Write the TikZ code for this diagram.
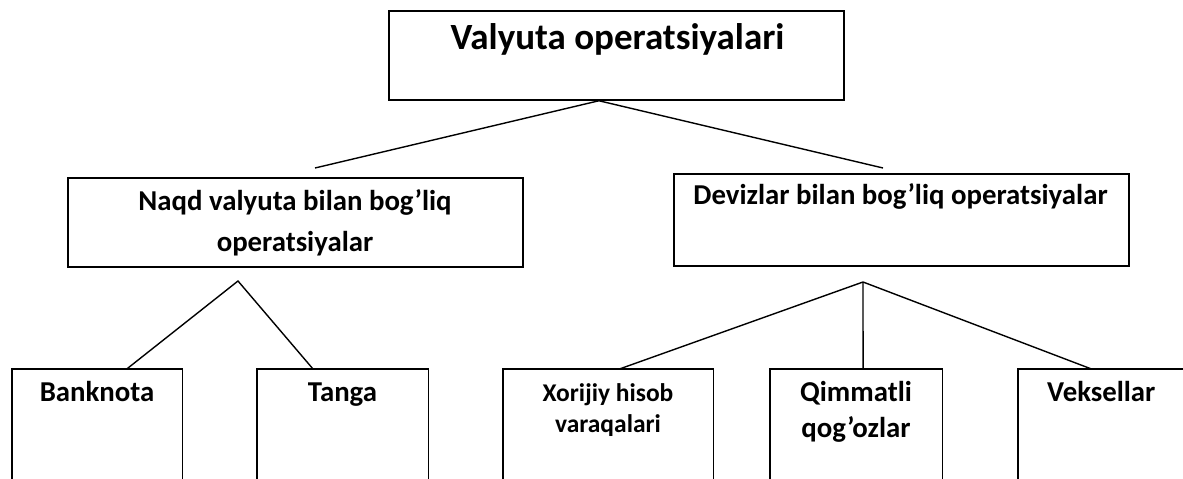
\documentclass[tikz,border=0pt]{standalone}
\usepackage{fontspec}
\setmainfont{Carlito}
\usetikzlibrary{calc}
\begin{document}
\begin{tikzpicture}[x=1pt,y=-1pt,
  box/.style={draw=black, line width=1.5pt, rectangle, inner sep=0pt},
  openbox/.style={rectangle, inner sep=0pt},
  conn/.style={draw=black, line width=1.4pt},
  lblbig/.style={font=\bfseries\fontsize{37}{44}\selectfont, anchor=base, inner sep=0pt},
  lbl/.style={font=\bfseries\fontsize{28.8}{34}\selectfont, anchor=base, inner sep=0pt},
  lblsmall/.style={font=\bfseries\fontsize{25.5}{31}\selectfont, anchor=base, inner sep=0pt}]
\useasboundingbox (0,0) rectangle (1183,479);
\clip (0,0) rectangle (1183,479);
\fill[white] (0,0) rectangle (1183,479);

% top level
\node[box, minimum width=455pt, minimum height=89pt] (top) at (616.5,55.5) {};
\node[lblbig] (ttl) at (617.5,49) {Valyuta operatsiyalari};

% second level
\node[box, minimum width=455pt, minimum height=89pt] (naqd) at (295.5,222.5) {};
\node[lbl] (naqdA) at (295,210) {Naqd valyuta bilan bog’liq};
\node[lbl] (naqdB) at (295,251) {operatsiyalar};

\node[box, minimum width=455pt, minimum height=92pt] (deviz) at (901.5,220) {};
\node[lbl] (devizA) at (900.5,204) {Devizlar bilan bog’liq operatsiyalar};

% third level (open boxes)
\node[openbox, minimum width=170pt, minimum height=121pt] (bank) at (97,429.5) {};
\node[openbox, minimum width=171pt, minimum height=121pt] (tanga) at (342.5,429.5) {};
\node[openbox, minimum width=210pt, minimum height=121pt] (xor) at (608,429.5) {};
\node[openbox, minimum width=172pt, minimum height=121pt] (qim) at (856,429.5) {};
\node[openbox, minimum width=200pt, minimum height=121pt] (vek) at (1118,429.5) {};

\foreach \b in {bank,tanga,xor,qim,vek}{
  \draw[conn] (\b.south west) |- (\b.north east) -- (\b.south east);
}

\node[lbl] (bankT) at (97,401) {Banknota};
\node[lbl] (tangaT) at (342.5,401) {Tanga};
\node[lblsmall] (xorA) at (608,401) {Xorijiy hisob};
\node[lblsmall] (xorB) at (608,432) {varaqalari};
\node[lbl] (qimA) at (856,401) {Qimmatli};
\node[lbl] (qimB) at (856,437) {qog’ozlar};
\node[lbl, anchor=base west] (vekT) at (1047,401) {Veksellar};

% connectors
\coordinate (topapex) at ($(top.south west)!0.4615!(top.south east)$);
\coordinate (endL) at (315,168);
\coordinate (endR) at (883,168);
\draw[conn] (endL) -- (topapex) -- (endR);

\coordinate (apexL) at (238,281);
\coordinate (bankIn) at ($(bank.north west)!0.676!(bank.north east)$);
\coordinate (tangaIn) at ($(tanga.north west)!0.327!(tanga.north east)$);
\draw[conn] (bankIn) -- (apexL) -- (tangaIn);

\coordinate (apexR) at (863,282);
\coordinate (xorIn) at ($(xor.north west)!0.557!(xor.north east)$);
\coordinate (qimIn) at ($(qim.north west)!0.541!(qim.north east)$);
\coordinate (vekIn) at ($(vek.north west)!0.365!(vek.north east)$);
\draw[conn] (xorIn) -- (apexR) -- (vekIn);
\draw[conn] (apexR) -- (qimIn);
\end{tikzpicture}
\end{document}
